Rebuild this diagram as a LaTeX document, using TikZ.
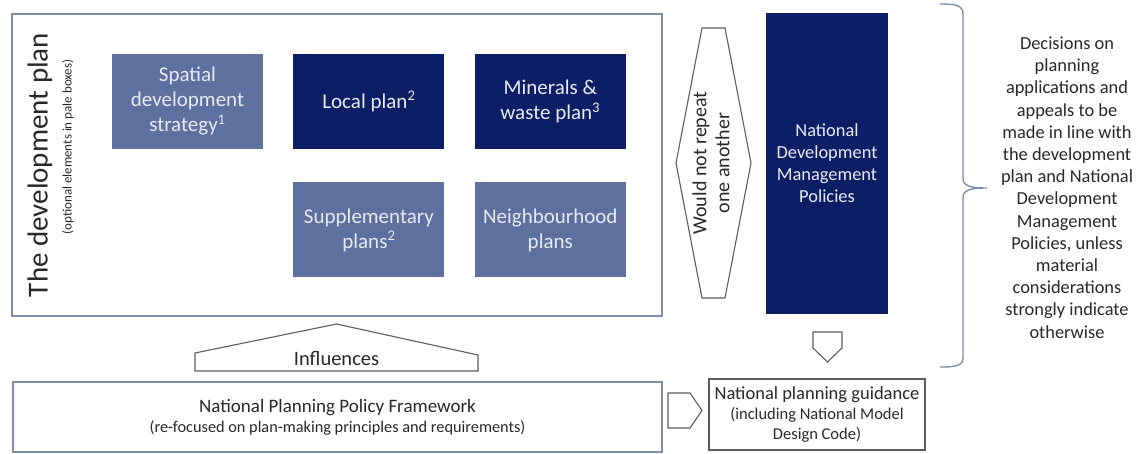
\documentclass[tikz,border=0pt]{standalone}
\usepackage{fontspec}
\setmainfont{Carlito}
\usepackage{tikz}
\usetikzlibrary{positioning}

\definecolor{palebox}{RGB}{93,112,160}
\definecolor{darkbox}{RGB}{12,31,102}
\definecolor{frameline}{RGB}{128,140,172}
\definecolor{shapeline}{RGB}{92,92,98}
\definecolor{boxtext}{RGB}{232,235,243}
\definecolor{inktext}{RGB}{40,40,40}

\tikzset{
  plan/.style={minimum width=151pt, minimum height=95pt, inner sep=0pt,
    align=center, text=boxtext, font=\fontsize{21}{25}\selectfont},
  pale/.style={plan, fill=palebox},
  dark/.style={plan, fill=darkbox},
  frame/.style={draw=frameline, line width=1.4pt},
  outline/.style={draw=shapeline, line width=1.1pt},
}

\begin{document}
\begin{tikzpicture}[x=1pt, y=-1pt, text=inktext]
  \useasboundingbox (0,0) rectangle (1148,453);

  % the development plan and its parts
  \node[frame, minimum width=650pt, minimum height=302pt, inner sep=0pt] (devplan) at (337,165) {};
  \node[rotate=90, font=\fontsize{29}{30}\selectfont] (title) at (40,165) {The development plan};
  \node[rotate=90, font=\fontsize{13}{14}\selectfont] (subtitle) at (68,147) {(optional elements in pale boxes)};

  \node[pale] (spatial) at (187.5,101.5) {Spatial\\development\\strategy\textsuperscript{1}};
  \node[dark, right=30pt of spatial] (local) {Local plan\textsuperscript{2}};
  \node[dark, right=30pt of local] (minerals) {Minerals \&\\waste plan\textsuperscript{3}};
  \node[pale, below=33pt of local] (supplementary) {Supplementary\\plans\textsuperscript{2}};
  \node[pale, below=33pt of minerals] (neighbourhood) {Neighbourhood\\plans};

  % would not repeat
  \draw[outline] (702,28) -- (725,28) -- (751,163) -- (725,298) -- (702,298) -- (676,163) -- cycle;
  \node[rotate=90, align=center, font=\fontsize{20}{23}\selectfont] (repeat) at (711,163) {Would not repeat\\one another};

  \node[dark, minimum width=122pt, minimum height=301pt, font=\fontsize{18.4}{22}\selectfont] (ndmp) at (827,163.5)
    {National\\Development\\Management\\Policies};

  % national documents
  \node[frame, minimum width=649pt, minimum height=70pt, inner sep=0pt, align=center,
    font=\fontsize{16.3}{20}\selectfont] (nppf) at (337.5,417)
    {{\fontsize{19}{20}\selectfont National Planning Policy Framework}\\(re-focused on plan-making principles and requirements)};
  \node[outline, minimum width=216pt, minimum height=71pt, inner sep=0pt, align=center,
    font=\fontsize{16.5}{20}\selectfont] (guidance) at (817,414.5)
    {{\fontsize{18.5}{20}\selectfont National planning guidance}\\(including National Model\\Design Code)};

  % block arrows
  \draw[outline] (195,371) -- (195,353) -- (336.5,324) -- (478,355) -- (478,371) -- cycle;
  \node[font=\fontsize{20.5}{22}\selectfont] (influences) at (336.5,359) {Influences};
  \draw[outline] (668,393) -- (690,393) -- (702,410.5) -- (690,428) -- (668,428) -- cycle;
  \draw[outline] (813,332) -- (842,332) -- (842,348) -- (827.5,362) -- (813,348) -- cycle;

  % brace and decisions
  \draw[frame] (940,4) .. controls (955,4) and (963,5) .. (963,14) -- (963,178)
    .. controls (963,186) and (970,188) .. (987,188)
    .. controls (970,188) and (963,190) .. (963,198) -- (963,358)
    .. controls (963,366) and (955,367) .. (940,367);
  \node[align=center, font=\fontsize{18.4}{22.2}\selectfont] (decisions) at (1067,187.5)
    {Decisions on\\planning\\applications and\\appeals to be\\made in line with\\the development\\plan and National\\Development\\Management\\Policies, unless\\material\\considerations\\strongly indicate\\otherwise};
\end{tikzpicture}
\end{document}
